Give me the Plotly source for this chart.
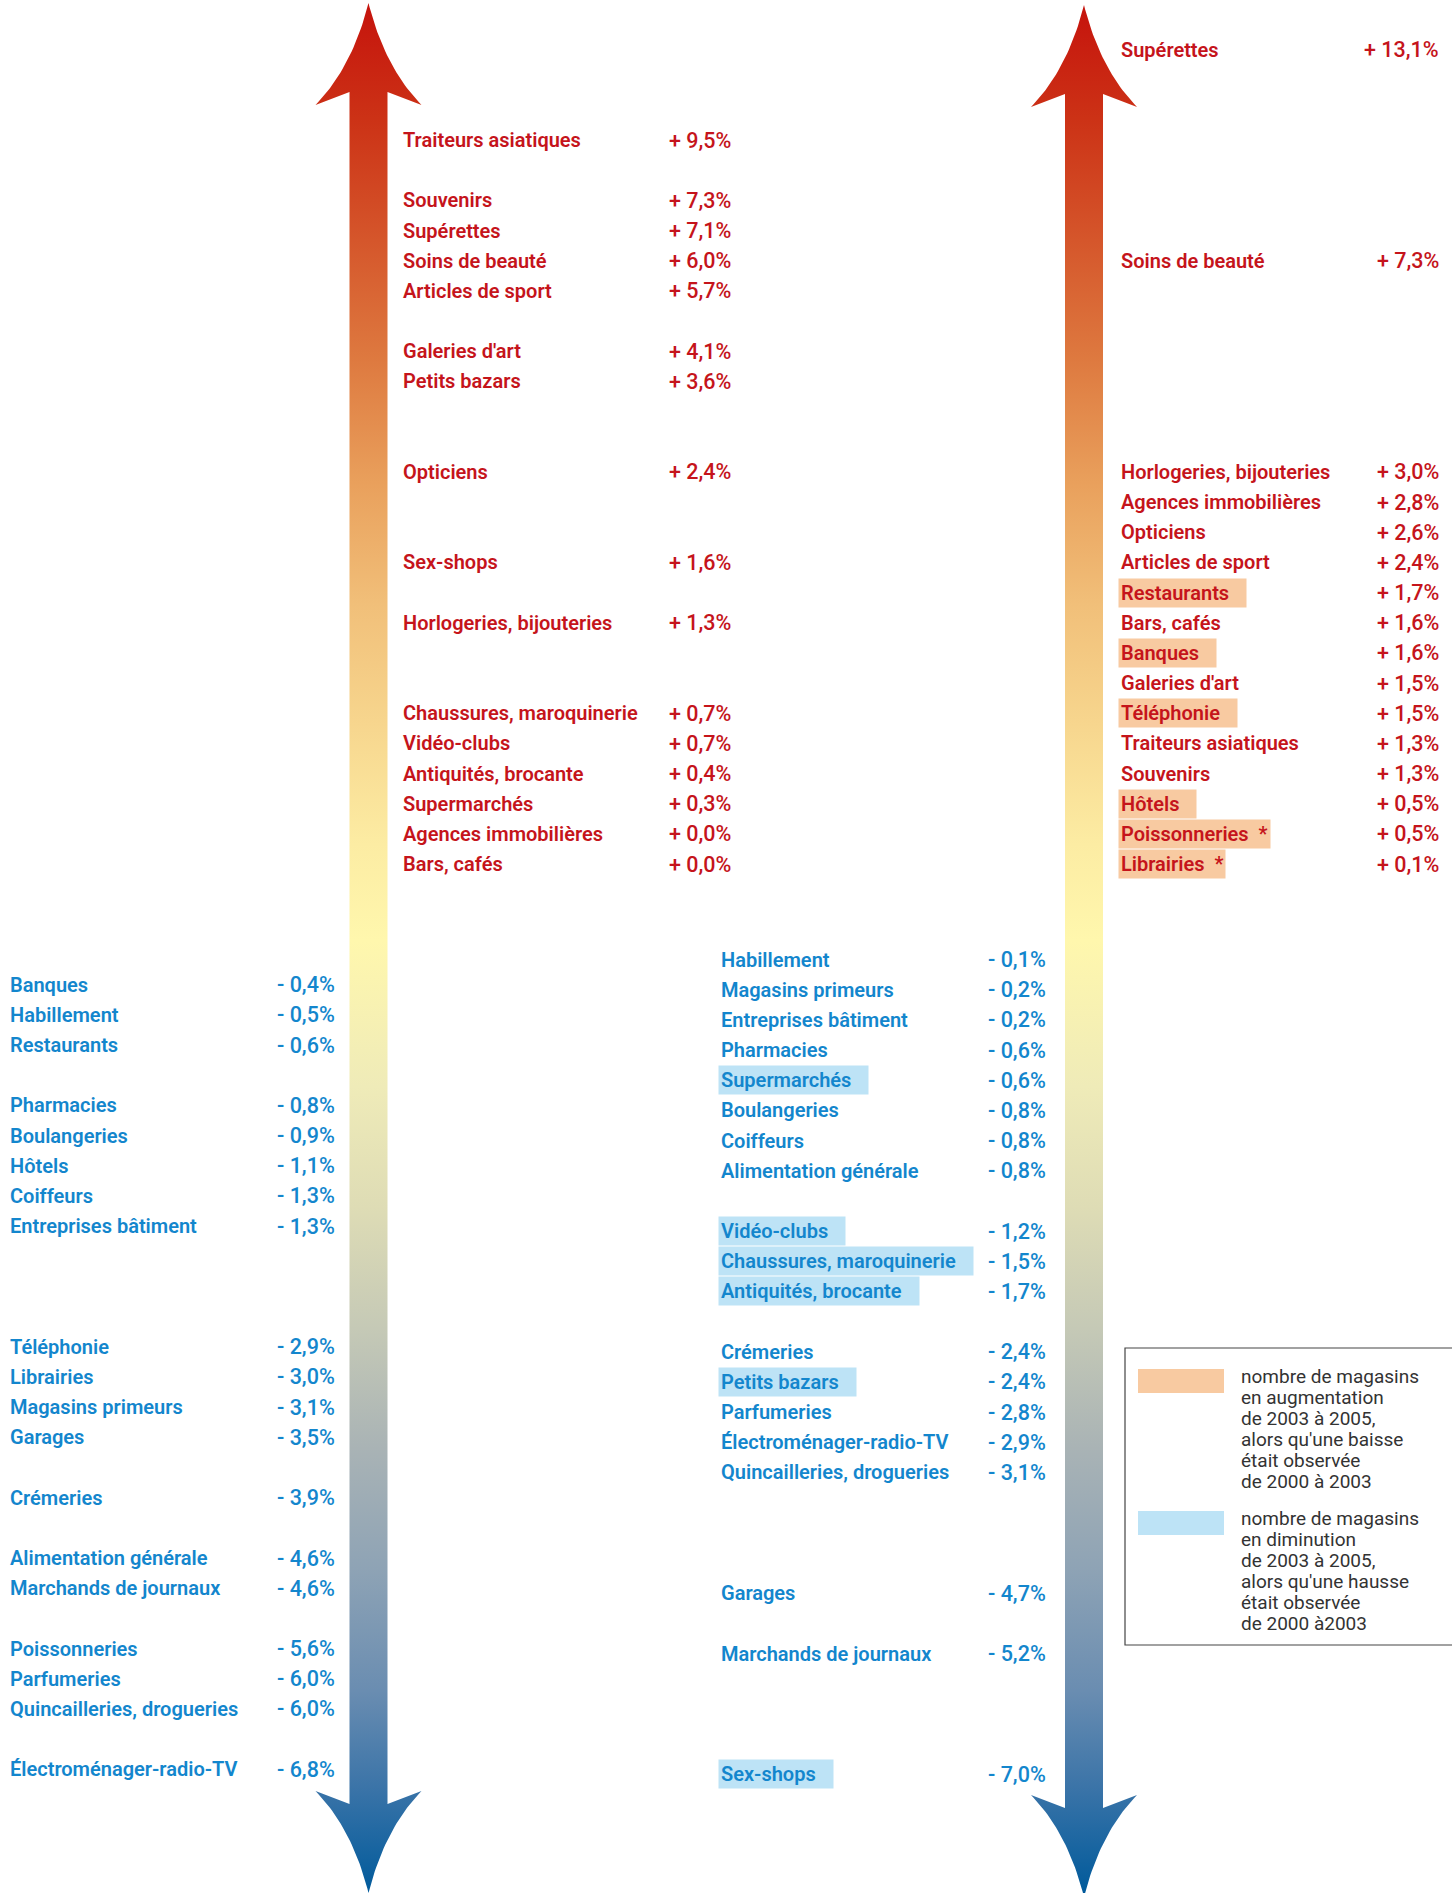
import numpy as np
import plotly.graph_objects as go

# ---------------- data ----------------
CATEGORIES = [
    "Traiteurs asiatiques", "Souvenirs", "Supérettes", "Soins de beauté",
    "Articles de sport", "Galeries d'art", "Opticiens", "Sex-shops",
    "Horlogeries, bijouteries", "Chaussures, maroquinerie", "Vidéo-clubs",
    "Antiquités, brocante", "Agences immobilières", "Bars, cafés", "Banques",
    "Habillement", "Restaurants", "Pharmacies", "Supermarchés", "Boulangeries",
    "Hôtels", "Coiffeurs", "Magasins primeurs", "Entreprises bâtiment",
    "Téléphonie", "Librairies", "Garages", "Crémeries", "Petits bazars",
    "Alimentation générale", "Marchands de journaux", "Poissonneries",
    "Parfumeries", "Quincailleries, drogueries", "Électroménager-radio-TV",
]
CHANGE_2000_2003 = [
    9.5, 7.3, 7.1, 6.0, 5.7, 4.1, 2.4, 1.6, 1.3, 0.7, 0.7, 0.4, 0.0, 0.0, -0.4,
    -0.5, -0.6, -0.8, 0.3, -0.9, -1.1, -1.3, -3.1, -1.3, -2.9, -3.0, -3.5, -3.9,
    3.6, -4.6, -4.6, -5.6, -6.0, -6.0, -6.8,
]
CHANGE_2003_2005 = [
    1.3, 1.3, 13.1, 7.3, 2.4, 1.5, 2.6, -7.0, 3.0, -1.5, -1.2, -1.7, 2.8, 1.6, 1.6,
    -0.1, 1.7, -0.6, -0.6, -0.8, 0.5, -0.8, -0.2, -0.2, 1.5, 0.1, -4.7, -2.4,
    -2.4, -0.8, -5.2, 0.5, -2.8, -3.1, -2.9,
]
FOOTNOTED_2003_2005 = ["Poissonneries", "Librairies"]

LEGEND_RISE = ["nombre de magasins", "en augmentation", "de 2003 à 2005,",
               "alors qu'une baisse", "était observée", "de 2000 à 2003"]
LEGEND_FALL = ["nombre de magasins", "en diminution", "de 2003 à 2005,",
               "alors qu'une hausse", "était observée", "de 2000 à2003"]

# ---------------- layout / scales ----------------
W, H = 1452, 1893
ROW0, PITCH = 49.5, 30.17
# non-linear vertical value scale of each arrow (value -> slot row)
SCALE_A = ([9.5, 7.3, 4.1, 2.4, 1.6, 1.3, 0.7, 0.0, -0.4, -0.8, -2.9, -3.9, -4.6, -5.6, -6.8],
           [3, 5, 10, 14, 17, 19, 22, 26, 31, 35, 43, 48, 50, 53, 57])
SCALE_B = ([13.1, 7.3, 3.0, 1.7, 0.1, -0.1, -0.6, -1.2, -2.4, -4.7, -5.2, -7.0],
           [0, 7, 14, 18, 27, 30, 33, 39, 43, 51, 53, 57])

FONT = "Roboto"
RED, BLUE = "#c5141b", "#1386cd"
PEACH, SKY = "#f8caa1", "#bde3f6"
GRAD = [
    [0.000, "#c5120c"], [0.063, "#cc3216"], [0.191, "#de7a40"],
    [0.255, "#e9a05c"], [0.319, "#f1bf79"], [0.383, "#f7d68e"],
    [0.446, "#fceca3"], [0.497, "#fff7ad"], [0.574, "#efebb8"],
    [0.638, "#dedcb5"], [0.702, "#c5c9b6"], [0.765, "#a9b3b5"],
    [0.829, "#8ea3b5"], [0.893, "#6a8db1"], [0.944, "#3b74a8"],
    [1.000, "#005a9b"],
]


def fmt(v):
    return ("+ " if v >= 0 else "- ") + f"{abs(v):.1f}".replace(".", ",") + "%"


def slot_rows(values, scale):
    """Map sorted values to rows through the scale, pushing down on collisions."""
    xp = np.array(scale[0][::-1]); fp = np.array(scale[1][::-1], dtype=float)
    rows, prev = [], -10
    for v in values:
        r = int(np.floor(np.interp(v, xp, fp) + 0.5))
        r = max(r, prev + 1)
        rows.append(r); prev = r
    return rows


def arrow_xy(cx, top, bottom):
    hs, hw, wy, iy = 19, 53, 102, 89
    t = np.linspace(0, 1, 30)

    def bez(p0, p1, p2):
        return [((1 - s) ** 2 * p0[0] + 2 * (1 - s) * s * p1[0] + s * s * p2[0],
                 (1 - s) ** 2 * p0[1] + 2 * (1 - s) * s * p1[1] + s * s * p2[1]) for s in t]

    pts = []
    pts += bez((cx, top), (cx - 16, top + 64), (cx - hw, top + wy))
    pts += [(cx - hs, top + iy), (cx - hs, bottom - iy)]
    pts += bez((cx - hw, bottom - wy), (cx - 16, bottom - 64), (cx, bottom))
    pts += bez((cx, bottom), (cx + 16, bottom - 64), (cx + hw, bottom - wy))
    pts += [(cx + hs, bottom - iy), (cx + hs, top + iy)]
    pts += bez((cx + hw, top + wy), (cx + 16, top + 64), (cx, top))
    return [p[0] for p in pts], [p[1] for p in pts]


fig = go.Figure()
for cx, top, bottom in [(368.5, 3, 1893), (1084, 5, 1897)]:
    ax, ay = arrow_xy(cx, top, bottom)
    fig.add_trace(go.Scatter(
        x=ax, y=ay, mode="lines", fill="toself", line=dict(width=0),
        fillgradient=dict(type="vertical", colorscale=GRAD, start=0, stop=H),
        hoverinfo="skip", showlegend=False))

annotations = []
n = len(CATEGORIES)
v1 = np.array(CHANGE_2000_2003); v2 = np.array(CHANGE_2003_2005)

panels = [
    (v1, SCALE_A, {True: (404, 731.5), False: (11, 335.5)}, 1),
    (v2, SCALE_B, {True: (1122, 1440), False: (722, 1047)}, 2),
]
PAD = 2
for vals, scale, cols, period in panels:
    order = sorted(range(n), key=lambda i: -vals[i])
    rows = slot_rows([vals[i] for i in order], scale)
    for i, r in zip(order, rows):
        v = vals[i]
        pos = v >= 0
        name_x, val_x = cols[pos]
        y = ROW0 + r * PITCH + (5 if (period == 2 and not pos) else 0)
        col = RED if pos else BLUE
        label = CATEGORIES[i]
        bg = "rgba(0,0,0,0)"
        if period == 2:
            if v2[i] > 0 and v1[i] < 0:
                bg = PEACH
            elif v2[i] < 0 and v1[i] > 0:
                bg = SKY
            if label in FOOTNOTED_2003_2005:
                label = label + "\u00a0\u00a0*"
            elif bg != "rgba(0,0,0,0)":
                label = label + "\u00a0\u00a0\u00a0"
        annotations.append(dict(
            x=name_x - PAD - 2, y=y, xref="x", yref="y", text=label, showarrow=False,
            xanchor="left", yanchor="middle", bgcolor=bg, borderpad=PAD,
            font=dict(family=FONT, size=20, color=col, weight=600)))
        annotations.append(dict(
            x=val_x, y=y, xref="x", yref="y", text=fmt(v), showarrow=False,
            xanchor="right", yanchor="middle", borderpad=0,
            font=dict(family=FONT, size=21.5, color=col, weight=500)))

# legend
shapes = [
    dict(type="rect", xref="x", yref="y", x0=1125, x1=1470, y0=1348, y1=1645,
         line=dict(color="#444444", width=1.2), fillcolor="rgba(0,0,0,0)"),
    dict(type="rect", xref="x", yref="y", x0=1138, x1=1224, y0=1369, y1=1393,
         line=dict(width=0), fillcolor=PEACH),
    dict(type="rect", xref="x", yref="y", x0=1138, x1=1224, y0=1511, y1=1535,
         line=dict(width=0), fillcolor=SKY),
]
for lines, y0 in [(LEGEND_RISE, 1376), (LEGEND_FALL, 1518)]:
    for k, line in enumerate(lines):
        annotations.append(dict(
            x=1239, y=y0 + k * 21.1, xref="x", yref="y", text=line, showarrow=False,
            xanchor="left", yanchor="middle",
            font=dict(family=FONT, size=19, color="#333333")))

fig.update_layout(
    width=W, height=H, margin=dict(l=0, r=0, t=0, b=0),
    paper_bgcolor="white", plot_bgcolor="white",
    xaxis=dict(range=[0, W], visible=False, fixedrange=True),
    yaxis=dict(range=[H, 0], visible=False, fixedrange=True),
    annotations=annotations, shapes=shapes, showlegend=False,
)
fig.write_html("out.html", config={"displayModeBar": False},
               post_script="document.body.style.margin='0';")
